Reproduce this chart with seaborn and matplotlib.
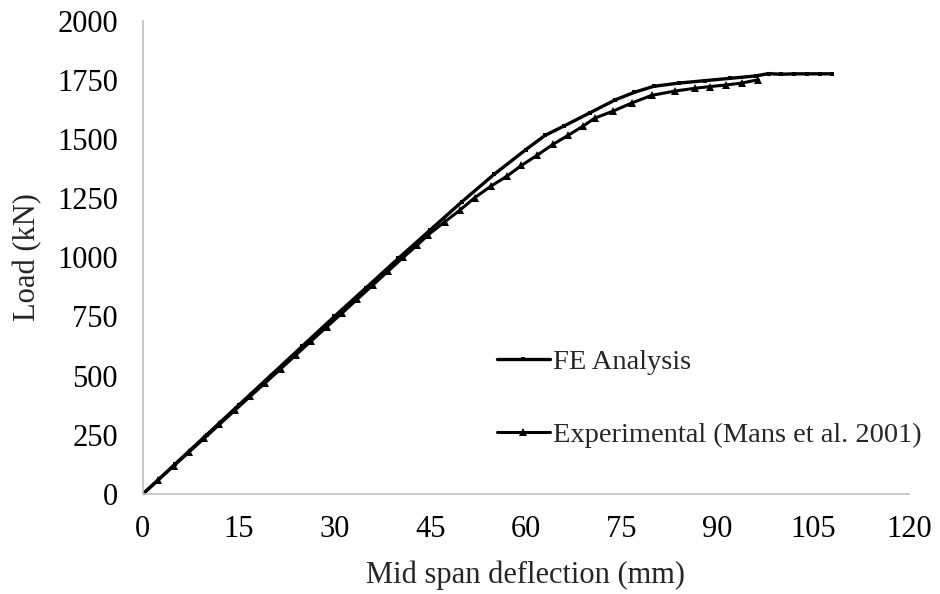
import matplotlib
matplotlib.use("Agg")
import matplotlib.pyplot as plt
import seaborn as sns

# Load-deflection response: finite element model vs. test
fe_deflection = [0, 5, 10, 15, 20, 25, 30, 35, 40, 45, 50, 55, 60, 63, 66, 70,
                 74, 77, 80, 84, 88, 92, 96, 98, 100, 102, 104, 106, 108]
fe_load = [0, 125, 250, 375, 500, 625, 750, 872, 995, 1115, 1235, 1350, 1455,
           1515, 1555, 1610, 1665, 1697, 1722, 1736, 1746, 1756, 1766, 1776,
           1773, 1775, 1775, 1775, 1775]

exp_deflection = [0, 2.4, 4.8, 7.2, 9.6, 12.0, 14.4, 16.8, 19.2, 21.6, 24.0,
                  26.4, 28.8, 31.2, 33.6, 36.0, 38.4, 40.8, 43.0, 44.7, 47.3,
                  49.7, 52.0, 54.6, 57.0, 59.3, 61.7, 64.3, 66.6, 69.0, 70.8,
                  73.7, 76.6, 79.7, 83.3, 86.5, 88.8, 91.4, 93.8, 96.4]
exp_load = [0, 59, 118, 176, 235, 294, 353, 412, 470, 529, 588, 647, 706, 764,
            823, 882, 941, 1000, 1052, 1095, 1150, 1200, 1252, 1302, 1342, 1388,
            1430, 1478, 1515, 1555, 1588, 1618, 1652, 1684, 1702, 1714, 1721,
            1728, 1736, 1750]

x_ticks = [0, 15, 30, 45, 60, 75, 90, 105, 120]
y_ticks = [0, 250, 500, 750, 1000, 1250, 1500, 1750, 2000]

sns.set_theme(style="white")
plt.rcParams["font.family"] = ["Liberation Serif", "DejaVu Serif"]

fig = plt.figure(figsize=(9.4, 5.94), dpi=100)
ax = fig.add_axes([0.152, 0.1684, 0.815, 0.797])

sns.lineplot(x=fe_deflection, y=fe_load, ax=ax, color="black", linewidth=2.4,
             marker="s", markersize=2.4, markeredgewidth=0, estimator=None,
             label="FE Analysis")
sns.lineplot(x=exp_deflection, y=exp_load, ax=ax, color="black", linewidth=2.2,
             marker="^", markersize=6.2, markeredgewidth=0, estimator=None,
             label="Experimental (Mans et al. 2001)")

ax.set_xlim(0, 120)
ax.set_ylim(0, 2000)
ax.set_xticks(x_ticks)
ax.set_yticks(y_ticks)
ax.tick_params(axis="both", labelsize=22, colors="black", length=5,
               width=1.2, direction="out", color="#BFBFBF")
ax.tick_params(axis="y", pad=13)
ax.tick_params(axis="x", pad=10)
for side in ("top", "right"):
    ax.spines[side].set_visible(False)
for side in ("left", "bottom"):
    ax.spines[side].set_color("#BFBFBF")
    ax.spines[side].set_linewidth(1.2)

ax.set_xlabel("Mid span deflection (mm)", fontsize=22)
ax.set_ylabel("Load (kN)", fontsize=22)
ax.xaxis.label.set_va("center")
ax.yaxis.label.set_va("center")
ax.xaxis.set_label_coords(0.5, -0.171)
ax.yaxis.set_label_coords(-0.150, 0.5)

ax.legend(loc="center left", bbox_to_anchor=(0.462, 0.2017), frameon=False,
          fontsize=20.5, handlelength=1.86, handletextpad=0.1,
          labelspacing=1.63, borderpad=0, borderaxespad=0)

fig.savefig("out.png", dpi=100, facecolor="white")
